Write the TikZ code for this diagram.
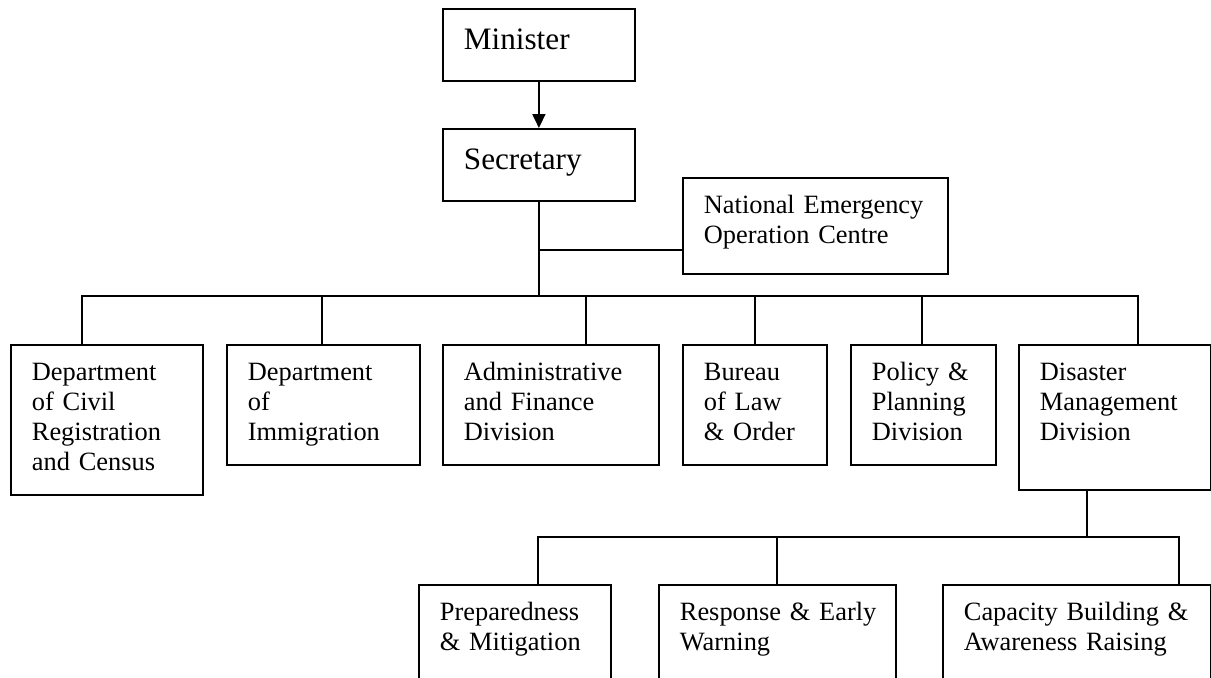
\documentclass[tikz,border=0pt]{standalone}
\usepackage{fontspec}
\setmainfont{Liberation Serif}
\usetikzlibrary{calc}
\usetikzlibrary{arrows.meta}

\begin{document}
\begin{tikzpicture}[x=0.5pt, y=-0.5pt, line width=0.9pt,
    >={Triangle[length=7pt,width=6.5pt]},
    unit/.style={rectangle, draw, anchor=north west, align=left,
      inner sep=0pt, text height=18pt,
      execute at begin node={\leftskip=10.5pt\relax},
      font=\fontsize{13.2}{15}\selectfont},
    head/.style={unit, text width=96pt, text height=20.5pt, text depth=15.5pt,
      font=\fontsize{15.6}{18}\selectfont},
  ]
\useasboundingbox (0,0) rectangle (1211,677);
\clip (0,0) rectangle (1211,677);
% Row 1
\node (min) [head] at (442,8)   {Minister};
\node (sec) [head] at (442,128) {Secretary};
\node (neoc)[unit, text width=132.5pt, text depth=30pt] at (682,177) {National Emergency\\Operation Centre};
% Row 2
\node (dcrc)[unit, text width=96pt,   text depth=57pt]   at (10,344)   {Department\\of Civil\\Registration\\and Census};
\node (dimm)[unit, text width=96.5pt, text depth=42pt]   at (226,344)  {Department\\of\\Immigration};
\node (afd) [unit, text width=108pt,  text depth=42pt]   at (442,344)  {Administrative\\and Finance\\Division};
\node (blo) [unit, text width=72pt,   text depth=42pt]   at (682,344)  {Bureau\\of Law\\\& Order};
\node (ppd) [unit, text width=72.5pt, text depth=42pt]   at (850,344)  {Policy \&\\Planning\\Division};
\node (dmd) [unit, text width=96pt,   text depth=54.5pt] at (1018,344) {Disaster\\Management\\Division};
% Row 3
\node (pm)  [unit, text width=96pt,    text depth=54pt] at (418,584) {Preparedness\\\& Mitigation};
\node (rew) [unit, text width=118.5pt, text depth=54pt] at (658,584) {Response \& Early\\Warning};
\node (cbar)[unit, text width=134pt,   text depth=54pt] at (942,584) {Capacity Building \&\\Awareness Raising};

\draw[->] (min) -- (sec);
\coordinate (bus) at (sec.south |- 0,296);
\coordinate (njoin) at (sec.south |- 0,250);
\draw (sec.south) -- (bus);
\draw (njoin) -- (njoin -| neoc.west);

\foreach \n/\x in {dcrc/82, dimm/322, afd/586, blo/755, ppd/922, dmd/1138}
  \coordinate (d-\n) at (\x,296);
\draw (d-dcrc |- dcrc.north) -- (d-dcrc) -- (d-dmd) -- (d-dmd |- dmd.north);
\foreach \n in {dimm, afd, blo, ppd}
  \draw (d-\n) -- (d-\n |- \n.north);

\coordinate (subbus) at (1087,537);
\draw (subbus |- dmd.south) -- (subbus);
\foreach \n/\x in {pm/538, rew/777, cbar/1179}
  \coordinate (s-\n) at (\x,537);
\draw (s-pm |- pm.north) -- (s-pm) -- (s-cbar) -- (s-cbar |- cbar.north);
\draw (s-rew) -- (s-rew |- rew.north);
\end{tikzpicture}
\end{document}
